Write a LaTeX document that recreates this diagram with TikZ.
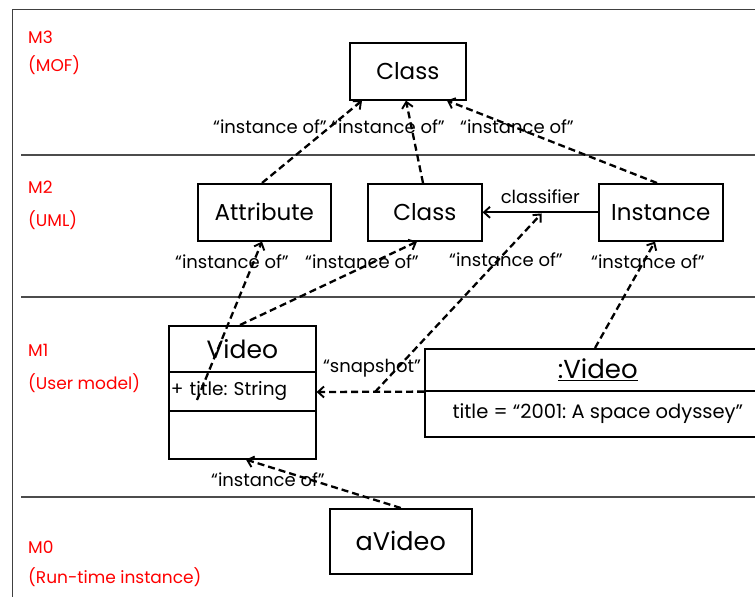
\documentclass[tikz,border=0pt]{standalone}
\usepackage{fontspec}
\setmainfont{Poppins}
\usetikzlibrary{arrows.meta}

\begin{document}
\frenchspacing
\begin{tikzpicture}[x=1pt,y=-1pt,
  box/.style={draw, line width=1.6pt, inner sep=0pt, anchor=north west,
    font=\fontsize{23}{26}\selectfont},
  lvl/.style={text=red, anchor=west, inner sep=0pt, font=\fontsize{17}{20}\selectfont},
  lbl/.style={inner sep=0pt, font=\fontsize{18}{21}\selectfont},
  dep/.style={dash pattern=on 7pt off 4pt, line width=2.3pt,
    -{Straight Barb[length=6pt,width=11pt,line width=1.9pt]}},
  assoc/.style={line width=2.3pt, -{Straight Barb[length=6pt,width=11pt,line width=1.9pt]}},
  sep/.style={line width=2.5pt, draw=black!70},
]
\useasboundingbox (0,0) rectangle (755,597);
\clip (0,0) rectangle (755,597);

% outer frame
\draw[line width=0.8pt, black!75] (12.5,597) -- (12.5,9) -- (760,9);

% level separators
\draw[sep] (21,155) -- (760,155);
\draw[sep] (21,297) -- (760,297);
\draw[sep] (21,497) -- (760,497);

% level names
\node[lvl] (m3)  at (28,37)  {M3};
\node[lvl] (m3n) at (28,65)  {(MOF)};
\node[lvl] (m2)  at (28,187) {M2};
\node[lvl] (m2n) at (28,220) {(UML)};
\node[lvl] (m1)  at (28,350) {M1};
\node[lvl] (m1n) at (28,383) {(User model)};
\node[lvl] (m0)  at (28,547) {M0};
\node[lvl] (m0n) at (28,577) {(Run-time instance)};

% M3
\node[box, minimum width=116pt, minimum height=57pt] (class3) at (349,42) {Class};

% M2
\node[box, minimum width=133pt, minimum height=57pt] (attr)   at (197,183) {Attribute};
\node[box, minimum width=114pt, minimum height=57pt] (class2) at (367,183) {Class};
\node[box, minimum width=124pt, minimum height=57pt] (inst)   at (598,183) {Instance};

% M1: class Video
\node[box, minimum width=147pt, minimum height=46pt, font=\fontsize{25}{28}\selectfont]
      (vname) at (168,325) {Video};
\node[box, minimum width=147pt, minimum height=39pt, text width=143pt, align=left,
      font=\fontsize{18.5}{21}\selectfont] (vattr) at (168,371) {+ title: String};
\node[box, minimum width=147pt, minimum height=48pt] (vops) at (168,410) {};

% M1: object :Video
\node[box, minimum width=346pt, minimum height=42pt, font=\fontsize{26}{29}\selectfont]
      (oname) at (424,348) {\underline{:Video}};
\node[box, minimum width=346pt, minimum height=46pt, font=\fontsize{19.5}{22}\selectfont]
      (oattr) at (424,390) {title = “2001: A space odyssey"};

% M0
\node[box, minimum width=142pt, minimum height=65pt, font=\fontsize{25.5}{28}\selectfont]
      (avideo) at (329,508) {aVideo};

% helper points
\coordinate (vtitle) at (197,400);
\coordinate (snap)   at (375,392);
\coordinate (clsf)   at (543,212);

% instance-of links to M3
\draw[dep] (attr.north -| 262,0)   -- (class3.south -| 362,0);
\draw[dep] (class2.north -| 423,0) -- (class3.south -| 406,0);
\draw[dep] (inst.north -| 657,0)   -- (class3.south -| 447,0);
\node[lbl] (l1) at (270,127) {“instance of”};
\node[lbl] (l2) at (388,127) {“instance of”};
\node[lbl] (l3) at (517,127) {“instance of”};

% classifier association
\draw[assoc] (inst.west) -- (class2.east) node[lbl, midway, above=7pt] (lc) {classifier};

% instance-of links to M2
\draw[dep] (vtitle) -- (attr.south -| 262,0);
\draw[dep] (vname.north -| 240,0) -- (class2.south -| 417,0);
\draw[dep, shorten >=2pt] (snap) -- (clsf);
\draw[dep] (oname.north -| 595,0) -- (inst.south -| 655,0);
\node[lbl] (l4) at (232,262) {“instance of”};
\node[lbl] (l5) at (362,262) {“instance of”};
\node[lbl] (l6) at (506,260) {“instance of”};
\node[lbl] (l7) at (648,262) {“instance of”};

% snapshot link
\draw[dep] (oname.south west) -- (vattr.east |- 0,392);
\node[lbl] (ls) at (372,368) {“snapshot”};

% M0 to M1
\draw[dep] (avideo.north) -- (vops.south -| 246,0);
\node[lbl] (l8) at (268,480) {“instance of”};
\end{tikzpicture}
\end{document}
